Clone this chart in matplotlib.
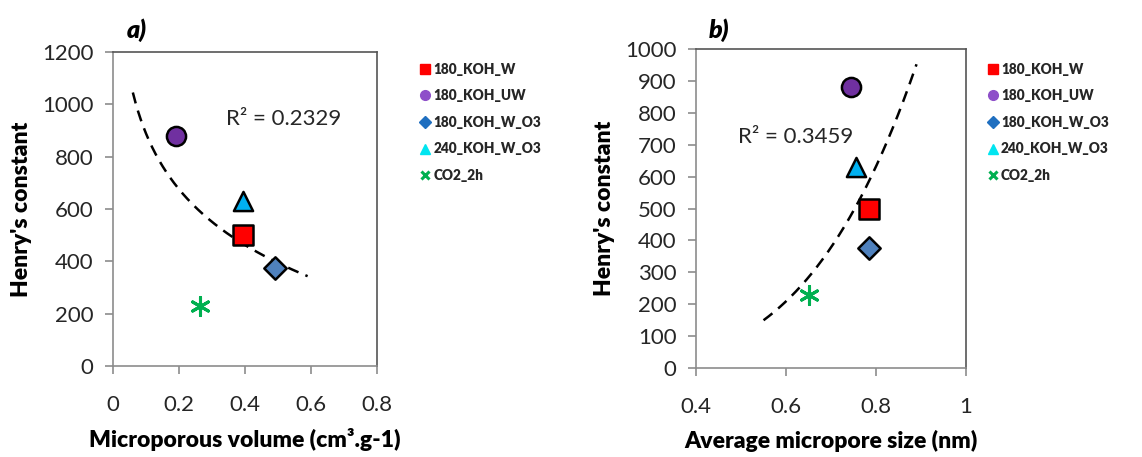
import numpy as np
import matplotlib
matplotlib.use('Agg')
import matplotlib.pyplot as plt
from matplotlib.lines import Line2D
from matplotlib.ticker import FuncFormatter

plt.rcParams['font.family'] = ['Lato', 'DejaVu Sans']

# samples and values
labels = ['180_KOH_W', '180_KOH_UW', '180_KOH_W_O3', '240_KOH_W_O3', 'CO2_2h']
henry = [500, 880, 375, 630, 230]
micro_vol = [0.395, 0.19, 0.49, 0.395, 0.265]
pore_size = [0.785, 0.745, 0.785, 0.755, 0.65]

# x range covered by the excel trendlines
trend_a_x = [0.06, 0.59]
trend_b_x = [0.55, 0.89]

# marker styles (plot / legend)
markers = ['s', 'o', 'D', '^', (6, 2, 0)]
face_cols = ['#ff0000', '#7030a0', '#4f81bd', '#00b0f0', '#00b050']
legend_cols = ['#ff0000', '#8e4fc9', '#1f6fc0', '#00e5f0', '#00b050']
sizes = [190, 190, 130, 190, 170]


def draw_points(ax, xs):
    for i in range(len(labels)):
        if i == 4:
            ax.scatter(xs[i], henry[i], marker=markers[i], s=sizes[i], color=face_cols[i],
                       linewidths=2.2, zorder=4)
        else:
            ax.scatter(xs[i], henry[i], marker=markers[i], s=sizes[i], facecolor=face_cols[i],
                       edgecolor='black', linewidths=1.8, zorder=4)


def style_axes(ax):
    for side in ['left', 'bottom']:
        ax.spines[side].set_color('#8c8c8c')
    for side in ['top', 'right']:
        ax.spines[side].set_color('#555555')
    for sp in ax.spines.values():
        sp.set_linewidth(1.2)
    ax.tick_params(direction='out', length=6, width=1.2, color='#8c8c8c',
                   labelsize=16, labelcolor='#262626')
    ax.tick_params(axis='x', pad=15)
    ax.tick_params(axis='y', pad=8)
    ax.xaxis.set_major_formatter(FuncFormatter(lambda v, p: '%g' % round(v, 2)))


def add_legend(fig, x0, y0):
    handles = []
    for i in range(len(labels)):
        if i == 4:
            handles.append(Line2D([], [], ls='none', marker='x', color=legend_cols[i],
                                  markersize=6, markeredgewidth=2.2))
        else:
            handles.append(Line2D([], [], ls='none', marker=markers[i], color=legend_cols[i],
                                  markeredgecolor=legend_cols[i], markersize=7 if i != 2 else 6))
    leg = fig.legend(handles, labels, loc='upper left', bbox_to_anchor=(x0, y0), frameon=False,
                     prop={'size': 9.8, 'weight': 'heavy'}, handlelength=0.6, handletextpad=0.3,
                     labelspacing=1.0, borderaxespad=0)
    for t in leg.get_texts():
        t.set_color('#262626')


fig = plt.figure(figsize=(11.42, 4.57), dpi=100)

# ---- panel a) ----
ax1 = fig.add_axes([0.099, 0.199, 0.231, 0.687])
draw_points(ax1, micro_vol)
# logarithmic trendline fitted on the points
b1, a1 = np.polyfit(np.log(micro_vol), henry, 1)
xa = np.linspace(trend_a_x[0], trend_a_x[1], 200)
ax1.plot(xa, a1 + b1 * np.log(xa), color='black', lw=1.8, ls=(0, (4.5, 3)), zorder=3)
ax1.set_xlim(0, 0.8)
ax1.set_ylim(0, 1200)
ax1.set_xticks(np.arange(0, 0.81, 0.2))
ax1.set_yticks(np.arange(0, 1201, 200))
style_axes(ax1)
ax1.set_xlabel('Microporous volume (cm³.g-1)', fontsize=16.5, fontweight='heavy', labelpad=9)
ax1.set_ylabel("Henry's constant", fontsize=16.5, fontweight='heavy', labelpad=7)
ax1.text(0.648, 0.786, 'R² = 0.2329', transform=ax1.transAxes, ha='center', va='center',
         fontsize=16, color='#262626')
fig.text(0.111, 0.935, 'a)', fontsize=18, fontweight='heavy', fontstyle='italic', ha='left', va='center')
add_legend(fig, 0.364, 0.875)

# ---- panel b) ----
ax2 = fig.add_axes([0.6095, 0.1947, 0.2364, 0.698])
draw_points(ax2, pore_size)
# power trendline fitted on the points
b2, a2 = np.polyfit(np.log(pore_size), np.log(henry), 1)
xb = np.linspace(trend_b_x[0], trend_b_x[1], 200)
ax2.plot(xb, np.exp(a2) * xb ** b2, color='black', lw=1.8, ls=(0, (4.5, 3)), zorder=3)
ax2.set_xlim(0.4, 1.0)
ax2.set_ylim(0, 1000)
ax2.set_xticks(np.arange(0.4, 1.01, 0.2))
ax2.set_yticks(np.arange(0, 1001, 100))
style_axes(ax2)
ax2.set_xlabel('Average micropore size (nm)', fontsize=16.5, fontweight='heavy', labelpad=9)
ax2.set_ylabel("Henry's constant", fontsize=16.5, fontweight='heavy', labelpad=7)
ax2.text(0.367, 0.724, 'R² = 0.3459', transform=ax2.transAxes, ha='center', va='center',
         fontsize=16, color='#262626')
fig.text(0.621, 0.935, 'b)', fontsize=18, fontweight='heavy', fontstyle='italic', ha='left', va='center')
add_legend(fig, 0.861, 0.875)

fig.savefig('out.png', dpi=100, facecolor='white')
